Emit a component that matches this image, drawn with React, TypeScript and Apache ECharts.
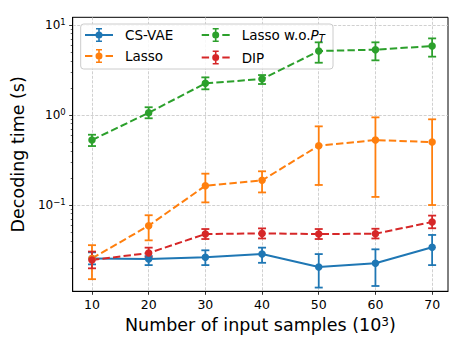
import React, { useEffect, useRef } from "react";
import * as echarts from "echarts";

const xValues = [10, 20, 30, 40, 50, 60, 70];

const csvae = [0.0255, 0.0251, 0.0263, 0.0285, 0.0205, 0.0225, 0.0339];
const csvaeLow = [0.0219, 0.0215, 0.0215, 0.0228, 0.0121, 0.0126, 0.0215];
const csvaeHigh = [0.0298, 0.0271, 0.0314, 0.0336, 0.0285, 0.0322, 0.0465];

const lasso = [0.0255, 0.0589, 0.164, 0.188, 0.456, 0.527, 0.5];
const lassoLow = [0.015, 0.0405, 0.107, 0.138, 0.167, 0.123, 0.1];
const lassoHigh = [0.0358, 0.077, 0.223, 0.237, 0.748, 0.942, 0.896];

const lassoWo = [0.527, 1.06, 2.25, 2.51, 5.14, 5.32, 5.84];
const lassoWoLow = [0.452, 0.92, 1.93, 2.21, 3.81, 4.05, 4.45];
const lassoWoHigh = [0.604, 1.22, 2.62, 2.78, 6.42, 6.42, 7.1];

const dip = [0.0245, 0.0293, 0.0476, 0.0484, 0.0476, 0.048, 0.0648];
const dipLow = [0.0198, 0.0262, 0.0419, 0.0425, 0.0419, 0.0425, 0.0552];
const dipHigh = [0.0304, 0.0336, 0.0541, 0.055, 0.0541, 0.0545, 0.0763];

const xTicks = [10, 20, 30, 40, 50, 60, 70];
const yMajorTicks = [0.1, 1, 10];
const yMinorTicks = [
  0.02, 0.03, 0.04, 0.05, 0.06, 0.07, 0.08, 0.09,
  0.2, 0.3, 0.4, 0.5, 0.6, 0.7, 0.8, 0.9,
  2, 3, 4, 5, 6, 7, 8, 9,
];

const NAME_CSVAE = "CS-VAE";
const NAME_LASSO = "Lasso";
const NAME_LASSOWO = "Lasso w.o.P_T";
const NAME_DIP = "DIP";

const BLUE = "#1f77b4";
const ORANGE = "#ff7f0e";
const GREEN = "#2ca02c";
const RED = "#d62728";
const FONT = "DejaVu Sans";

// legend icons (28 x 14 box): line + marker + error bar with caps
const circle = "M10.5 7 A3.5 3.5 0 1 1 17.5 7 A3.5 3.5 0 1 1 10.5 7 Z";
const bar = "M13.2 0 H14.8 V14 H13.2 Z M11 0 H17 V1.5 H11 Z M11 12.5 H17 V14 H11 Z";
const solidIcon = "path://M0 6 H28 V8 H0 Z " + circle + " " + bar;
const dashedIcon =
  "path://M0 6 H7.4 V8 H0 Z M10.6 6 H17.4 V8 H10.6 Z M20.6 6 H28 V8 H20.6 Z " +
  circle + " " + bar;

function pairs(vals: number[]) {
  return xValues.map((x, i) => [x, vals[i]]);
}
function errs(lo: number[], hi: number[]) {
  return xValues.map((x, i) => [x, lo[i], hi[i]]);
}

function errSeries(name: string, color: string, lo: number[], hi: number[]) {
  return {
    type: "custom",
    name: name + " error",
    data: errs(lo, hi),
    encode: { x: 0, y: [1, 2] },
    z: 2,
    renderItem: (params: any, api: any) => {
      const x = api.value(0);
      const a = api.coord([x, api.value(1)]);
      const b = api.coord([x, api.value(2)]);
      const style = { stroke: color, lineWidth: 1.8 };
      return {
        type: "group",
        children: [
          { type: "line", shape: { x1: a[0], y1: a[1], x2: b[0], y2: b[1] }, style },
          { type: "line", shape: { x1: a[0] - 4, y1: a[1], x2: a[0] + 4, y2: a[1] }, style },
          { type: "line", shape: { x1: b[0] - 4, y1: b[1], x2: b[0] + 4, y2: b[1] }, style },
        ],
      };
    },
  };
}

function lineSeries(name: string, color: string, vals: number[], dashed: boolean) {
  return {
    type: "line",
    name,
    data: pairs(vals),
    z: 2,
    symbol: "circle",
    symbolSize: 7.5,
    showSymbol: true,
    itemStyle: { color, borderWidth: 0 },
    lineStyle: {
      color,
      width: 2,
      type: dashed ? [7.4, 3.2] : "solid",
    },
    emphasis: { disabled: true },
  };
}

function yFormatter(v: number) {
  const l = Math.log10(v);
  const e = Math.round(l);
  if (Math.abs(l - e) > 1e-6) return "";
  return "{b|10}{sup|" + (e < 0 ? "\u2212" + -e : String(e)) + "}";
}

export default function App() {
  const ref = useRef<HTMLDivElement>(null);

  useEffect(() => {
    if (!ref.current) return;
    const chart = echarts.init(ref.current, undefined, { renderer: "svg" });

    const legendCommon = {
      orient: "vertical",
      itemWidth: 28,
      itemHeight: 14,
      itemGap: 7,
      padding: 0,
      z: 4,
      selectedMode: false,
      itemStyle: { borderWidth: 0 },
      textStyle: {
        fontFamily: FONT,
        fontSize: 13.5,
        color: "#000",
        padding: [0, 0, 0, 7],
        rich: {
          it: { fontFamily: FONT, fontSize: 13.5, fontStyle: "italic", color: "#000" },
          sub: {
            fontFamily: FONT,
            fontSize: 10,
            fontStyle: "italic",
            color: "#000",
            padding: [7, 0, 0, 0],
          },
        },
      },
      formatter: (name: string) =>
        name === NAME_LASSOWO ? "Lasso w.o.{it|P}{sub|T}" : name,
    };

    chart.setOption({
      animation: false,
      grid: {
        left: 72.7,
        right: 9,
        top: 17.3,
        bottom: 51.7,
        show: true,
        borderColor: "#000",
        borderWidth: 1,
        backgroundColor: "transparent",
      },
      legend: [
        {
          ...legendCommon,
          left: 85,
          top: 28,
          data: [
            { name: NAME_CSVAE, icon: solidIcon },
            { name: NAME_LASSO, icon: dashedIcon },
          ],
        },
        {
          ...legendCommon,
          left: 201.7,
          top: 28,
          data: [
            { name: NAME_LASSOWO, icon: dashedIcon },
            { name: NAME_DIP, icon: dashedIcon },
          ],
        },
      ],
      graphic: [
        {
          type: "rect",
          z: 1,
          shape: { x: 80.7, y: 24, width: 252.3, height: 45, r: 3 },
          style: { fill: "rgba(255,255,255,0.85)", stroke: "#cccccc", lineWidth: 1 },
        },
      ],
      xAxis: {
        type: "value",
        min: 6.6,
        max: 72.8,
        name: "Number of input samples (10{sup|3})",
        nameLocation: "middle",
        nameGap: 23,
        nameTextStyle: {
          fontFamily: FONT,
          fontSize: 17.5,
          color: "#000",
          rich: {
            sup: { fontFamily: FONT, fontSize: 12, verticalAlign: "top", lineHeight: 11, color: "#000" },
          },
        },
        axisLine: { show: true, lineStyle: { color: "#000", width: 1 } },
        axisTick: {
          show: true,
          customValues: xTicks,
          length: 3.5,
          lineStyle: { color: "#000", width: 0.8 },
        },
        axisLabel: {
          customValues: xTicks,
          fontFamily: FONT,
          fontSize: 12.5,
          color: "#000",
          margin: 7,
        },
        splitLine: {
          show: true,
          lineStyle: { color: "#c4c4c4", width: 0.8, type: [3, 1.5] },
        },
      },
      yAxis: [
        {
          type: "log",
          logBase: 10,
          min: 0.011,
          max: 12.18,
          name: "Decoding time (s)",
          nameLocation: "middle",
          nameGap: 43,
          nameTextStyle: { fontFamily: FONT, fontSize: 17.5, color: "#000" },
          axisLine: { show: true, lineStyle: { color: "#000", width: 1 } },
          axisTick: {
            show: true,
            customValues: yMajorTicks,
            length: 3.5,
            lineStyle: { color: "#000", width: 0.8 },
          },
          axisLabel: {
            customValues: yMajorTicks,
            formatter: yFormatter,
            margin: 7,
            color: "#000",
            rich: {
              b: { fontFamily: FONT, fontSize: 12, lineHeight: 15, color: "#000" },
              sup: { fontFamily: FONT, fontSize: 8.5, lineHeight: 9, verticalAlign: "top", color: "#000" },
            },
          },
          splitLine: {
            show: true,
            lineStyle: { color: "#c4c4c4", width: 0.8, type: [3, 1.5] },
          },
        },
        {
          type: "log",
          logBase: 10,
          min: 0.011,
          max: 12.18,
          position: "left",
          axisLine: { show: false },
          axisTick: {
            show: true,
            customValues: yMinorTicks,
            length: 2,
            lineStyle: { color: "#000", width: 0.6 },
          },
          axisLabel: { show: false },
          splitLine: { show: false },
        },
      ],
      series: [
        errSeries(NAME_CSVAE, BLUE, csvaeLow, csvaeHigh),
        lineSeries(NAME_CSVAE, BLUE, csvae, false),
        errSeries(NAME_LASSO, ORANGE, lassoLow, lassoHigh),
        lineSeries(NAME_LASSO, ORANGE, lasso, true),
        errSeries(NAME_LASSOWO, GREEN, lassoWoLow, lassoWoHigh),
        lineSeries(NAME_LASSOWO, GREEN, lassoWo, true),
        errSeries(NAME_DIP, RED, dipLow, dipHigh),
        lineSeries(NAME_DIP, RED, dip, true),
      ],
    });

    return () => chart.dispose();
  }, []);

  return (
    <div
      ref={ref}
      style={{ position: "absolute", left: 0, top: 0, width: 457, height: 343 }}
    />
  );
}
